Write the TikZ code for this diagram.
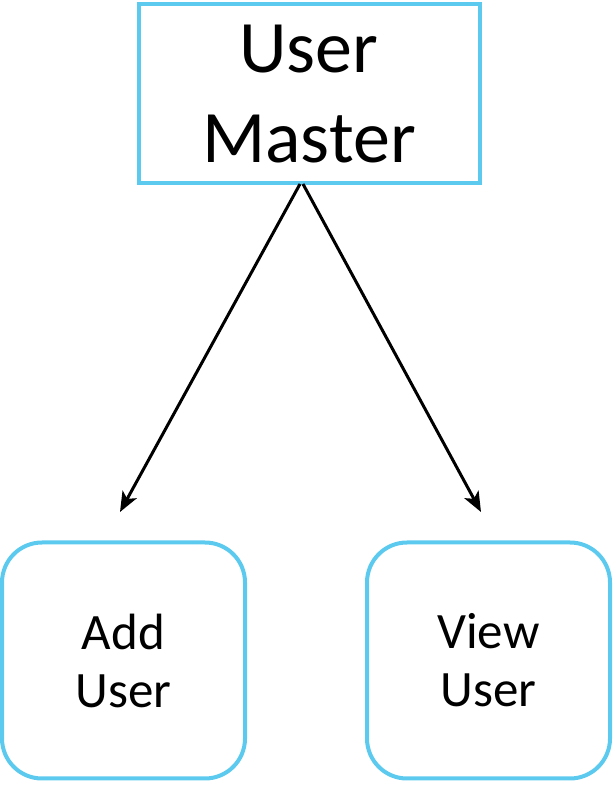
\documentclass[tikz,border=0pt]{standalone}
\usepackage{fontspec}
\setmainfont{Carlito}
\usetikzlibrary{arrows.meta}
\definecolor{boxblue}{HTML}{5CCAEE}
\tikzset{
  topbox/.style={draw=boxblue, line width=4pt, minimum width=341pt, minimum height=179pt, inner sep=0pt, align=center,
    font=\fontsize{74}{90}\selectfont},
  leafbox/.style={draw=boxblue, line width=4pt, rounded corners=40pt, minimum width=243pt, minimum height=236pt, inner sep=0pt, align=center,
    font=\fontsize{51}{58}\selectfont},
  link/.style={line width=3pt, -{Stealth[length=20pt,width=16pt,inset=5pt]}}
}
\begin{document}
\begin{tikzpicture}[x=1pt,y=1pt]
\useasboundingbox (0,0) rectangle (615,785);
\node[topbox] (top) at (309,691) {User\\Master};
\node[leafbox] (add) at (123.5,124.5) {Add\\User};
\node[leafbox] (view) at (488.5,124.5) {View\\User};
\coordinate (s1) at (300,601);
\coordinate (s2) at (303,601);
\coordinate (e1) at (120,273);
\coordinate (e2) at (481,273);
\draw[link] (s1) -- (e1);
\draw[link] (s2) -- (e2);
\end{tikzpicture}
\end{document}
